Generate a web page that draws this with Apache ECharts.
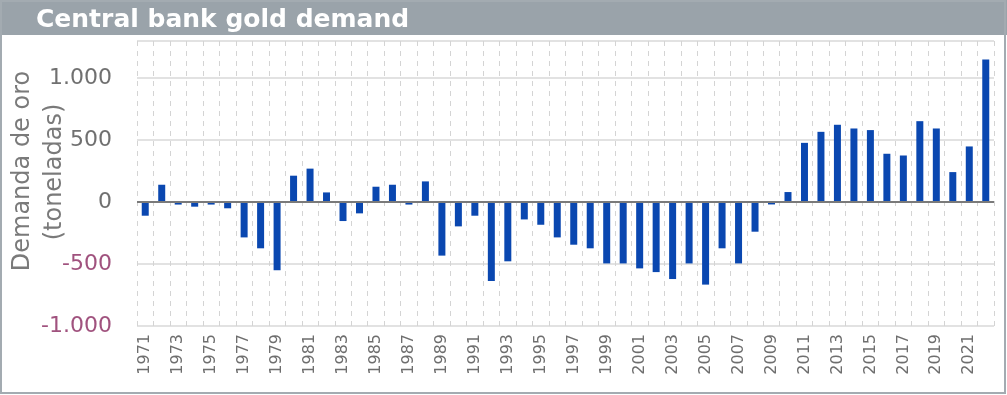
<!DOCTYPE html>
<html>
<head>
<meta charset="utf-8">
<script src="https://cdn.jsdelivr.net/npm/echarts@6/dist/echarts.min.js"></script>
<style>
html,body{margin:0;padding:0;background:#fff;}
#chart{width:1007px;height:395px;}
</style>
</head>
<body>
<div id="chart"></div>
<script>
const titleText = 'Central bank gold demand';
const axisTitleLines = ['Demanda de oro', '(toneladas)'];
const years = [];
for (let y = 1971; y <= 2022; y++) years.push(String(y));
const demand = [
  -110, 140, -20, -37, -20, -50, -285, -373, -550, 213,
  270, 78, -153, -91, 124, 140, -20, 167, -432, -196,
  -110, -637, -478, -140, -183, -285, -344, -373, -495, -495,
  -535, -565, -621, -495, -666, -373, -495, -239, -19, 81,
  478, 567, 624, 594, 581, 390, 376, 653, 594, 242,
  449, 1151
];
const yTicks = [-1000, -500, 0, 500, 1000];

const chart = echarts.init(document.getElementById('chart'), null, {renderer: 'canvas'});
const fontFam = 'DejaVu Sans';
chart.setOption({
  animation: false,
  backgroundColor: '#ffffff',
  title: {
    text: titleText,
    left: 31, top: 3,
    textStyle: {color: '#ffffff', fontSize: 25, fontWeight: 'bold', fontFamily: fontFam}
  },
  graphic: [
    {type: 'rect', z: -1, shape: {x: 0, y: 0, width: 1007, height: 35}, style: {fill: '#9aa3aa'}},
    {type: 'rect', z: -1, shape: {x: 1, y: 1, width: 1004, height: 392}, style: {fill: 'none', stroke: '#a3abb1', lineWidth: 2}},
    {type: 'text', x: 23, y: 171, rotation: Math.PI / 2,
     style: {text: axisTitleLines[0], align: 'center', verticalAlign: 'middle', fill: '#7a7a7a', font: '24px "DejaVu Sans"'}},
    {type: 'text', x: 55, y: 172, rotation: Math.PI / 2,
     style: {text: axisTitleLines[1], align: 'center', verticalAlign: 'middle', fill: '#7a7a7a', font: '24px "DejaVu Sans"'}}
  ],
  grid: {left: 137, right: 13, top: 41, bottom: 69, containLabel: false, outerBoundsMode: 'none'},
  xAxis: {
    type: 'category',
    data: years,
    boundaryGap: true,
    axisLine: {show: false, onZero: false},
    axisTick: {show: false},
    splitLine: {show: true, interval: 0, lineStyle: {color: '#d4d4d4', type: [5, 5], width: 1}},
    axisLabel: {
      interval: 1, rotate: 90, margin: 8,
      color: '#6e6e6e', fontSize: 16, fontFamily: fontFam
    }
  },
  yAxis: {
    type: 'value',
    min: -1000, max: 1300, interval: 500,
    axisLine: {show: false},
    axisTick: {show: false},
    splitLine: {lineStyle: {color: '#e2e2e2', width: 2}},
    axisLabel: {
      margin: 25,
      fontSize: 22, fontFamily: fontFam,
      showMaxLabel: false,
      formatter: function (v) {
        if (yTicks.indexOf(v) < 0) return '';
        const s = Math.abs(v) >= 1000 ? (v < 0 ? '-' : '') + '1.000' : String(v);
        return v < 0 ? '{neg|' + s + '}' : '{pos|' + s + '}';
      },
      rich: {
        pos: {color: '#707070', fontSize: 22, fontFamily: fontFam},
        neg: {color: '#a0527e', fontSize: 22, fontFamily: fontFam}
      }
    }
  },
  series: [{
    type: 'bar',
    data: demand,
    barWidth: 7,
    itemStyle: {color: '#0a47b0'},
    markLine: {
      silent: true,
      symbol: ['none', 'none'],
      label: {show: false},
      lineStyle: {color: '#7a7a7a', width: 2, type: 'solid'},
      data: [{yAxis: 0}]
    }
  }]
});
</script>
</body>
</html>
